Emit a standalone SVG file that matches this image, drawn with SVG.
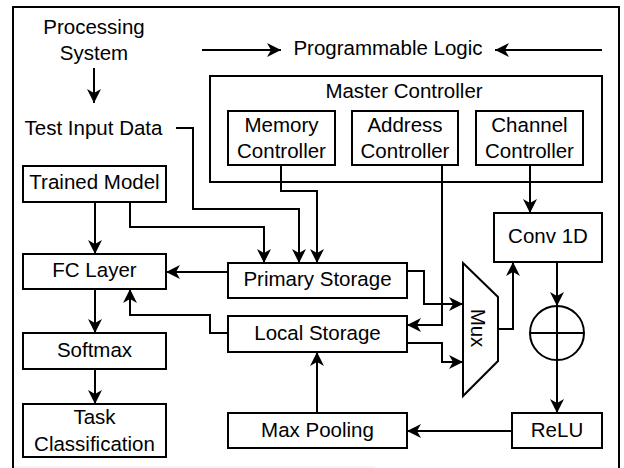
<svg xmlns="http://www.w3.org/2000/svg" width="624" height="468" viewBox="0 0 624 468">
<style>
.box{fill:#fff;stroke:#000;stroke-width:2}
.frame{fill:none;stroke:#000;stroke-width:2}
.t{font-family:"Liberation Sans",Arial,Helvetica,sans-serif;font-size:20.5px;fill:#000;text-anchor:middle}
.c{fill:none;stroke:#000;stroke-width:2}
</style>
<defs>
<marker id="ah" markerUnits="userSpaceOnUse" markerWidth="16" markerHeight="16" viewBox="0 0 16 16" refX="15" refY="8" orient="auto">
<path d="M1,1 L15,8 L1,15 L5,8 z" fill="#000"/>
</marker>
</defs>
<rect width="624" height="468" fill="#fff"/>
<path d="M13,470 V7 H619 V470" class="frame"/>
<line x1="14" y1="467" x2="375" y2="467" stroke="#ececec" stroke-width="1"/>

<g id="processing-system"><text class="t" x="94" y="34">Processing</text><text class="t" x="94" y="60">System</text></g>
<g id="programmable-logic"><text class="t" x="388" y="55">Programmable Logic</text></g>
<g id="test-input-data"><text class="t" x="93.5" y="135">Test Input Data</text></g>

<g id="master-controller"><rect class="box" x="210" y="76" width="392" height="106"/><text class="t" x="404" y="98">Master Controller</text></g>
<g id="memory-controller"><rect class="box" x="228" y="111" width="107" height="54"/><text class="t" x="281.5" y="132">Memory</text><text class="t" x="281.5" y="158">Controller</text></g>
<g id="address-controller"><rect class="box" x="352" y="111" width="106" height="54"/><text class="t" x="405" y="132">Address</text><text class="t" x="405" y="158">Controller</text></g>
<g id="channel-controller"><rect class="box" x="476" y="111" width="107" height="54"/><text class="t" x="529.5" y="132">Channel</text><text class="t" x="529.5" y="158">Controller</text></g>

<g id="trained-model"><rect class="box" x="23" y="166" width="143" height="36"/><text class="t" x="94.5" y="189">Trained Model</text></g>
<g id="fc-layer"><rect class="box" x="23" y="254" width="143" height="35"/><text class="t" x="94.5" y="277">FC Layer</text></g>
<g id="softmax"><rect class="box" x="23" y="333" width="143" height="36"/><text class="t" x="94.5" y="357">Softmax</text></g>
<g id="task-classification"><rect class="box" x="23" y="404" width="143" height="53"/><text class="t" x="94.5" y="424">Task</text><text class="t" x="94.5" y="451">Classification</text></g>

<g id="primary-storage"><rect class="box" x="228" y="263" width="179" height="35"/><text class="t" x="317.5" y="286">Primary Storage</text></g>
<g id="local-storage"><rect class="box" x="228" y="316" width="179" height="36"/><text class="t" x="317.5" y="340">Local Storage</text></g>
<g id="max-pooling"><rect class="box" x="228" y="413" width="179" height="35"/><text class="t" x="317.5" y="437">Max Pooling</text></g>

<g id="mux"><polygon class="box" points="463,263 498,297 498,361 463,396"/><text class="t" x="478" y="328" dominant-baseline="central" transform="rotate(90 478 328)">Mux</text></g>
<g id="conv1d"><rect class="box" x="494" y="213" width="108" height="49"/><text class="t" x="548" y="243">Conv 1D</text></g>
<g id="adder"><circle class="box" cx="557" cy="333" r="27"/><line x1="530" y1="333" x2="584" y2="333" stroke="#000" stroke-width="2"/><line x1="557" y1="306" x2="557" y2="360" stroke="#000" stroke-width="2"/></g>
<g id="relu"><rect class="box" x="512" y="413" width="90" height="35"/><text class="t" x="557" y="437">ReLU</text></g>

<g id="connectors" class="c" marker-end="url(#ah)">
<path d="M94,68 V103"/>
<path d="M202,50 H281"/>
<path d="M602,50 H495"/>
<path d="M176,128 H193 V209 H299 V263"/>
<path d="M95,202 V254"/>
<path d="M130,202 V227 H264 V263"/>
<path d="M281,165 V191 H317 V263"/>
<path d="M442,165 V325 H407"/>
<path d="M530,165 V213"/>
<path d="M228,272 H166"/>
<path d="M228,333 H210 V315 H130 V289"/>
<path d="M407,271 H424 V304 H463"/>
<path d="M407,343 H442 V362 H463"/>
<path d="M498,329 H513 V262"/>
<path d="M557,262 V306"/>
<path d="M557,360 V413"/>
<path d="M512,431 H407"/>
<path d="M317,413 V352"/>
<path d="M95,289 V333"/>
<path d="M95,369 V404"/>
</g>
</svg>
